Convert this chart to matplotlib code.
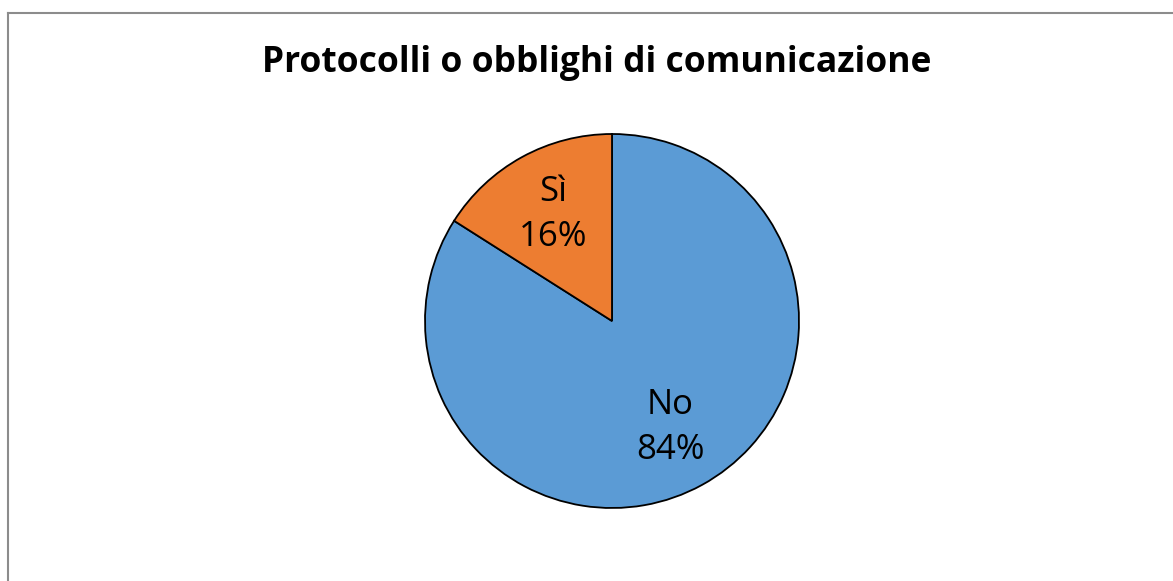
import numpy as np
import matplotlib
matplotlib.use("Agg")
import matplotlib.pyplot as plt
from matplotlib.lines import Line2D

title = "Protocolli o obblighi di comunicazione"
categories = ["No", "Sì"]
values = [84, 16]
colors = ["#5B9BD5", "#ED7D31"]

W, H = 1173, 581
fig = plt.figure(figsize=(W / 100, H / 100), dpi=100)
fig.patch.set_facecolor("white")

# chart frame (left and top edges)
fig.add_artist(Line2D([7.5 / W, 7.5 / W], [0, 1 - 12.5 / H], transform=fig.transFigure,
                      color="#8c8c8c", lw=1.5))
fig.add_artist(Line2D([7.5 / W, 1], [1 - 12.5 / H, 1 - 12.5 / H], transform=fig.transFigure,
                      color="#8c8c8c", lw=1.5))

# pie axes: centre (612, 321), radius ~187 px
cx, cy, r = 612, 321, 187
ax = fig.add_axes([(cx - r) / W, 1 - (cy + r) / H, 2 * r / W, 2 * r / H])
wedges, _ = ax.pie(values, colors=colors, startangle=90, counterclock=False,
                   radius=1.0, wedgeprops=dict(edgecolor="black", linewidth=1.3))
ax.set_xlim(-1, 1)
ax.set_ylim(-1, 1)
ax.set_aspect("equal")
ax.axis("off")

total = sum(values)
for w, cat, v in zip(wedges, categories, values):
    mid = np.deg2rad((w.theta1 + w.theta2) / 2)
    d = 0.65
    ax.text(d * np.cos(mid), d * np.sin(mid), f"{cat}\n{round(100 * v / total)}%",
            ha="center", va="center", fontsize=25, family="Open Sans",
            color="black", linespacing=1.42)

fig.text(597 / W, 1 - 63 / H, title, ha="center", va="center",
         fontsize=25.5, fontweight="bold", family="Open Sans", color="black")

fig.savefig("out.png", dpi=100)
